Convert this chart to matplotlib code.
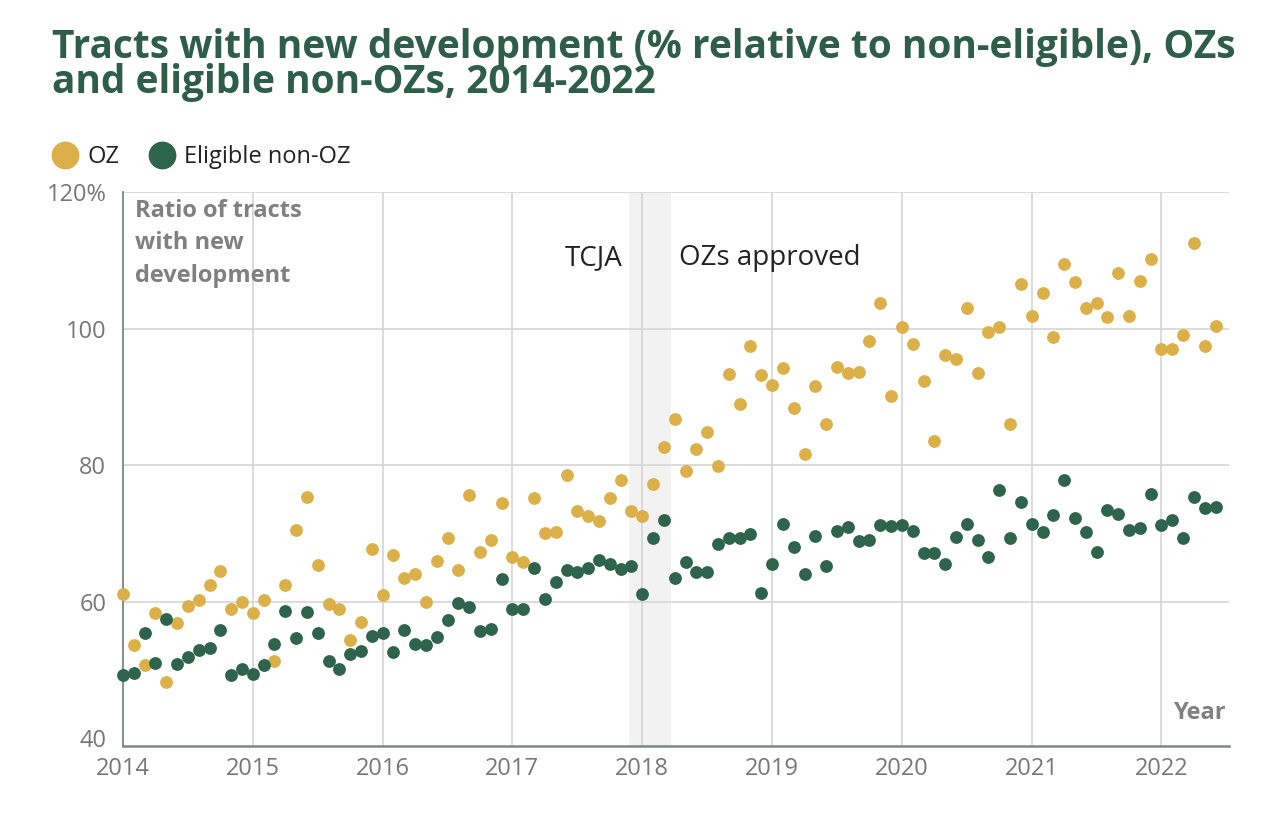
import numpy as np
import matplotlib
matplotlib.use("Agg")
import matplotlib.pyplot as plt
from matplotlib.lines import Line2D

plt.rcParams['font.family'] = ['Open Sans', 'DejaVu Sans']

# monthly values, Jan 2014 - Jun 2022
oz = [61.2, 53.7, 50.8, 58.4, 48.3, 56.9, 59.4, 60.2, 62.5, 64.5, 59.0, 60.0,
      58.3, 60.2, 51.4, 62.4, 70.5, 75.3, 65.4, 59.7, 58.9, 54.4, 57.1, 67.8,
      61.0, 66.9, 63.5, 64.1, 60.0, 66.0, 69.3, 64.6, 75.6, 67.3, 69.1, 74.5,
      66.6, 65.9, 75.2, 70.1, 70.3, 78.6, 73.3, 72.5, 71.8, 75.2, 77.9, 73.3,
      72.5, 77.2, 82.7, 86.7, 79.2, 82.4, 84.9, 79.9, 93.4, 88.9, 97.4, 93.2,
      91.8, 94.2, 88.4, 81.6, 91.6, 86.0, 94.4, 93.5, 93.7, 98.2, 103.7, 90.2,
      100.2, 97.7, 92.4, 83.6, 96.1, 95.6, 103.0, 93.5, 99.5, 100.3, 86.0, 106.6,
      101.8, 105.2, 98.8, 109.4, 106.8, 103.0, 103.7, 101.7, 108.1, 101.8, 106.9, 110.2,
      97.0, 97.0, 99.1, 112.6, 97.5, 100.4]

non_oz = [49.3, 49.6, 55.4, 51.1, 57.5, 50.9, 51.9, 52.9, 53.2, 55.9, 49.3, 50.1,
          49.4, 50.7, 53.8, 58.6, 54.7, 58.5, 55.5, 51.4, 50.2, 52.3, 52.8, 55.0,
          55.4, 52.6, 55.9, 53.8, 53.7, 54.8, 57.3, 59.8, 59.2, 55.8, 56.1, 63.4,
          59.0, 59.0, 64.9, 60.4, 62.9, 64.6, 64.4, 65.0, 66.2, 65.5, 64.8, 65.3,
          61.2, 69.3, 72.0, 63.5, 65.9, 64.4, 64.3, 68.4, 69.4, 69.4, 69.9, 61.3,
          65.6, 71.4, 68.1, 64.1, 69.6, 65.2, 70.4, 70.9, 68.9, 69.1, 71.3, 71.1,
          71.2, 70.4, 67.2, 67.2, 65.5, 69.5, 71.4, 69.1, 66.5, 76.4, 69.3, 74.6,
          71.4, 70.3, 72.7, 77.9, 72.3, 70.3, 67.3, 73.5, 72.9, 70.5, 70.8, 75.8,
          71.3, 72.0, 69.4, 75.4, 73.8, 73.9]

years = list(range(2014, 2023))
yticks = [40, 60, 80, 100, 120]
ytick_labels = ["40", "60", "80", "100", "120%"]
band = (2017.9, 2018.22)  # TCJA -> OZs approved

t = 2014 + np.arange(len(oz)) / 12.0

YELLOW = "#dbb048"
GREEN = "#2e634c"
TITLE = "#2e5e4b"
GRAY = "#777777"

fig = plt.figure(figsize=(12.74, 8.24), dpi=100)
ax = fig.add_axes([123/1274, 1 - 746/824, (1229-123)/1274, (746-192)/824])

ax.axvspan(band[0], band[1], color="#f2f2f2", zorder=0, lw=0)

ax.scatter(t, oz, s=85, color=YELLOW, zorder=3, clip_on=False, lw=0)
ax.scatter(t, non_oz, s=85, color=GREEN, zorder=4, clip_on=False, lw=0)

ax.set_xlim(2014, 2022.52)
ax.set_ylim(38.9, 120)
ax.set_xticks(years)
ax.set_xticklabels([str(y) for y in years])
ax.set_yticks(yticks)
ax.set_yticklabels(ytick_labels)
ax.tick_params(length=0, labelsize=17, labelcolor=GRAY)
ax.tick_params(axis='y', pad=12)
ax.tick_params(axis='x', pad=8)

ax.grid(True, color="#d6d6d6", lw=1.2, zorder=1)
ax.set_axisbelow(True)
ax.get_ygridlines()[0].set_visible(False)

for s in ["top", "right"]:
    ax.spines[s].set_visible(False)
ax.spines["left"].set_color("#7d8589")
ax.spines["left"].set_linewidth(1.3)
ax.spines["bottom"].set_color("#7d8589")
ax.spines["bottom"].set_linewidth(1.8)

ax.text(2014.09, 119, "Ratio of tracts\nwith new\ndevelopment", fontsize=17,
        fontweight="bold", color="#808080", va="top", ha="left", linespacing=1.48)
ax.text(2022.5, 42.0, "Year", fontsize=17, fontweight="bold", color="#808080",
        ha="right", va="bottom")
ax.text(2017.85, 110.3, "TCJA", fontsize=20, color="#222222", ha="right", va="center")
ax.text(2018.28, 110.3, "OZs approved", fontsize=20, color="#222222", ha="left", va="center")

fig.text(52/1274, 1 - 28/824,
         "Tracts with new development (% relative to non-eligible), OZs\nand eligible non-OZs, 2014-2022",
         fontsize=28, fontweight="bold", color=TITLE, va="top", ha="left", linespacing=0.88)

handles = [Line2D([], [], marker="o", ls="", color=YELLOW, markersize=19),
           Line2D([], [], marker="o", ls="", color=GREEN, markersize=19)]
fig.legend(handles, ["OZ", "Eligible non-OZ"], loc="center left",
           bbox_to_anchor=(32/1274, 1 - 157/824), ncol=2, frameon=False,
           fontsize=17, handletextpad=0.45, columnspacing=1.3, handlelength=1.0,
           labelcolor="#222222")

fig.savefig("out.png", dpi=100)
